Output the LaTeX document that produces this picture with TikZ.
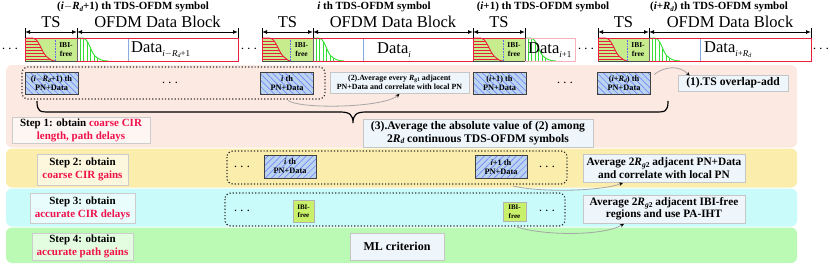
\documentclass[tikz,border=0pt]{standalone}
\usepackage{fontspec}
\setmainfont{Liberation Serif}
\usetikzlibrary{patterns.meta,arrows.meta,calc}
\definecolor{pinkbg}{HTML}{FCE9E2}
\definecolor{yelbg}{HTML}{FBEDAB}
\definecolor{cyanbg}{HTML}{C9FBFB}
\definecolor{greenbg}{HTML}{BAFAB4}
\definecolor{tsgreen}{HTML}{C6EC8E}
\definecolor{ibigreen}{HTML}{C8F06A}
\definecolor{hatchblue}{HTML}{B8D4EE}
\definecolor{boxfill}{HTML}{EEF5FB}
\definecolor{redtxt}{HTML}{F0104A}
\definecolor{symred}{HTML}{E8203C}
\definecolor{curvegreen}{HTML}{33DD33}
\definecolor{lineblue}{HTML}{88AADD}
\tikzset{
  panel/.style={rounded corners=6pt, draw=none},
  txtbox/.style={draw=gray!45, fill=boxfill, line width=0.6pt, align=center, inner sep=1pt,
     font=\bfseries\fontsize{11.3}{12.5}\selectfont},
  pnbox/.style={draw=black!75, line width=1pt, preaction={fill=hatchblue},
     pattern={Lines[angle=-45,distance=4.5pt,line width=0.5pt]}, pattern color=blue!55,
     minimum width=53pt, minimum height=22pt, align=center, inner sep=0pt,
     font=\bfseries\fontsize{8.3}{9}\selectfont},
  pnboxb/.style={pnbox, pattern={Lines[angle=45,distance=4.5pt,line width=0.5pt]}},
  ibibox/.style={draw=gray!60, fill=ibigreen, line width=0.6pt, align=center, inner sep=0pt,
     font=\bfseries\fontsize{7}{8.5}\selectfont},
  dotbox/.style={draw=black!80, dotted, line width=1.2pt, rounded corners=6pt},
  steplbl/.style={draw=gray!40, line width=0.6pt, align=center, inner sep=0pt,
     font=\bfseries\fontsize{11}{13}\selectfont},
  conn/.style={gray!70, line width=0.8pt, -{Stealth[length=4pt,width=3.5pt,black]}},
  dimarrow/.style={line width=0.9pt, {Latex[length=5pt,width=4pt]}-{Latex[length=5pt,width=4pt]}},
  dotsnode/.style={font=\bfseries\fontsize{14}{14}\selectfont, inner sep=0pt},
  ttl/.style={font=\bfseries\fontsize{11}{12}\selectfont},
  big/.style={font=\fontsize{16.5}{17}\selectfont},
}
% #1 TS start, #2 dotted, #3 TS end, #4 data end, #5 blue line x, #6 data outline colour
\newcommand{\drawsym}[6]{%
  \fill[tsgreen] (#1,38) rectangle (#3,61);
  \fill[white] (#3,38) rectangle (#4,61);
  \begin{scope}
    \clip (#1,38) -- (#1+7,38) .. controls (#1+14,38) and (#1+16,51) .. (#1+21,56) .. controls (#1+24,59) and (#1+27,61) .. (#2,61) -- (#1,61) -- cycle;
    \foreach \yy in {41,44,...,59} \draw[symred, line width=0.5pt] (#1,\yy) -- (#2,\yy);
  \end{scope}
  \draw[symred, line width=0.9pt] (#1,38) -- (#1+7,38) .. controls (#1+14,38) and (#1+16,51) .. (#1+21,56) .. controls (#1+24,59) and (#1+27,61) .. (#2,61);
  \begin{scope}
    \clip (#3,38) -- (#3+5,38) .. controls (#3+12,38) and (#3+13,51) .. (#3+18,56) .. controls (#3+21,59) and (#3+25,61) .. (#3+31,61) -- (#3,61) -- cycle;
    \foreach \xx in {3,6.5,...,22} \draw[curvegreen, line width=0.5pt] (#3+\xx,38) -- (#3+\xx,61);
  \end{scope}
  \draw[curvegreen, line width=0.9pt] (#3,38) -- (#3+5,38) .. controls (#3+12,38) and (#3+13,51) .. (#3+18,56) .. controls (#3+21,59) and (#3+25,61) .. (#3+31,61);
  \draw[blue!60, densely dotted, line width=0.6pt] (#2,38) -- (#2,61);
  \draw[#6, line width=1pt] (#3,38) -- (#4,38) -- (#4,61) -- (#3,61);
  \draw[symred, line width=1pt] (#3,38) -- (#1,38) -- (#1,61);
  \draw[black!70, line width=1pt] (#1,61) -- (#3,61);
  \draw[black!60, line width=0.7pt] (#3,38) -- (#3,61);
  \node[font=\bfseries\fontsize{7.5}{9}\selectfont, align=center, inner sep=0pt] at ({(#2+#3)/2},50) {IBI-\\free};
}
\begin{document}
\begin{tikzpicture}[x=1pt,y=-1pt]
\useasboundingbox (0,0) rectangle (830,265);
% ---------- panels
\fill[panel, pinkbg] (6,65) rectangle (797,147.5);
\fill[panel, yelbg] (6,148.5) rectangle (797,187.5);
\fill[panel, cyanbg] (6,188.5) rectangle (797,226.5);
\fill[panel, greenbg] (6,227.5) rectangle (797,263);

% ---------- top symbols
\drawsym{25}{55}{77}{238}{128}{symred}
\drawsym{262}{290}{313}{473}{363}{symred}
\drawsym{473}{503}{525}{575}{600}{symred!35}
\drawsym{598}{627}{649}{811}{700}{symred}
\foreach \bx in {128,363,700} \draw[lineblue, line width=0.8pt] (\bx,38.5) -- (\bx,60.5);
\node[big, anchor=west, inner sep=0pt] (d1) at (131,50) {Data\raisebox{-0.5ex}{\fontsize{9}{9}\selectfont\itshape i$-$R\raisebox{-0.3ex}{\fontsize{6}{6}\selectfont d}\upshape +1}};
\node[big, anchor=west, inner sep=0pt] (d2) at (377,50) {Data\raisebox{-0.5ex}{\fontsize{9}{9}\selectfont\itshape i}};
\node[big, anchor=west, inner sep=0pt] (d3) at (528,50) {Data\raisebox{-0.5ex}{\fontsize{9}{9}\selectfont\itshape i\upshape +1}};
\node[big, anchor=west, inner sep=0pt] (d4) at (704,50) {Data\raisebox{-0.5ex}{\fontsize{9}{9}\selectfont\itshape i\upshape +\itshape R\raisebox{-0.3ex}{\fontsize{6}{6}\selectfont d}}};

% dimension arrows
\foreach \xa/\xb in {25/77,77/238,262/313,313/473,473/525,598/649,649/811}{
  \draw[dimarrow] (\xa,32) -- (\xb,32);
  \draw[line width=0.9pt] (\xa,28) -- (\xa,38);
  \draw[line width=0.9pt] (\xb,28) -- (\xb,38);
}
\node[big] (ts1) at (51,22) {TS};
\node[big] (ob1) at (157.5,22) {OFDM Data Block};
\node[big] (ts2) at (287.5,22) {TS};
\node[big] (ob2) at (393,22) {OFDM Data Block};
\node[big] (ts3) at (499,22) {TS};
\node[big] (ts4) at (623.5,22) {TS};
\node[big] (ob4) at (730,22) {OFDM Data Block};

\node[ttl] (s1) at (133,7) {(\textit{i}$-$\textit{R\raisebox{-0.3ex}{\fontsize{7}{7}\selectfont d}}+1) th TDS-OFDM symbol};
\node[ttl] (s2) at (374,7) {\textit{i} th TDS-OFDM symbol};
\node[ttl] (s3) at (543,7) {(\textit{i}+1) th TDS-OFDM symbol};
\node[ttl] (s4) at (719,7) {(\textit{i}+\textit{R\raisebox{-0.3ex}{\fontsize{7}{7}\selectfont d}}) th TDS-OFDM symbol};

\node[dotsnode] (e1) at (10,49) {$\cdots$};
\node[dotsnode] (e2) at (249,49) {$\cdots$};
\node[dotsnode] (e3) at (586,49) {$\cdots$};
\node[dotsnode] (e4) at (821,49) {$\cdots$};

% ---------- Step 1
\draw[dotbox] (22,67) rectangle (325,99);
\node[pnbox] (b1) at (51.5,83) {(\textit{i}$-$\textit{R\raisebox{-0.3ex}{\fontsize{5.5}{5.5}\selectfont d}}+1) th\\PN+Data};
\node[pnbox] (b2) at (287,83) {\textit{i} th\\PN+Data};
\node[pnbox] (b3) at (499.5,83) {(\textit{i}+1) th\\PN+Data};
\node[pnbox] (b4) at (624,83) {(\textit{i}+\textit{R\raisebox{-0.3ex}{\fontsize{5.5}{5.5}\selectfont d}}) th\\PN+Data};
\node[dotsnode] (e5) at (170,83) {$\cdots$};
\node[dotsnode] (e6) at (565,83) {$\cdots$};
\node[txtbox, minimum width=139pt, minimum height=21pt, font=\bfseries\fontsize{7.9}{9.5}\selectfont] (t2) at (399.5,82.5)
  {(2).Average every \textit{R}\raisebox{-0.3ex}{\fontsize{5.5}{5.5}\selectfont g1} adjacent\\PN+Data and correlate with local PN};
\node[txtbox, minimum width=110pt, minimum height=16pt, font=\bfseries\fontsize{11.6}{12}\selectfont] (t1) at (733,83) {(1).TS overlap-add};
\node[txtbox, minimum width=230pt, minimum height=28pt, font=\bfseries\fontsize{11.6}{13}\selectfont] (t3) at (478,133)
  {(3).Average the absolute value of (2) among\\2\textit{R\raisebox{-0.3ex}{\fontsize{7.5}{7.5}\selectfont d}} continuous TDS-OFDM symbols};
\node[steplbl, fill=pinkbg!40, minimum width=138pt, minimum height=26pt] (l1) at (81,130)
  {Step 1: obtain \textcolor{redtxt}{coarse CIR}\\\textcolor{redtxt}{length, path delays}};

% brace
\coordinate (brl) at (37,101);
\coordinate (brr) at (668,101);
\coordinate (brt) at (353,123);
\draw[line width=1.2pt] (brl) .. controls ($(brl)+(0,11)$) and ($(brl)+(3,11)$) .. ($(brl)+(13,11)$) -- ($(brt)+(-13,-11)$) .. controls ($(brt)+(-3,-11)$) and ($(brt)+(0,-8)$) .. (brt)
  .. controls ($(brt)+(0,-8)$) and ($(brt)+(3,-11)$) .. ($(brt)+(13,-11)$) -- ($(brr)+(-13,11)$) .. controls ($(brr)+(-3,11)$) and ($(brr)+(0,11)$) .. (brr);

% connectors
\coordinate (c1s) at ($(b4.north east)+(3,3)$);
\coordinate (c1e) at ($(t1.north west)+(12,1)$);
\draw[conn] (c1s) .. controls ($(c1s)+(12,-9)$) and ($(c1e)+(-10,-10)$) .. (c1e);
\coordinate (c2s) at ($(b2.south)+(1,6)$);
\coordinate (c2e) at ($(t2.south)+(0,0.5)$);
\draw[conn] (c2s) .. controls ($(c2s)+(13,9)$) and ($(c2e)+(-15,14)$) .. (c2e);

% ---------- Step 2
\draw[dotbox] (227,151) rectangle (567,184);
\node[dotsnode] (e7) at (242,167) {$\cdots$};
\node[dotsnode] (e8) at (547,167) {$\cdots$};
\node[pnboxb, minimum width=52pt, minimum height=23pt] (b5) at (290,166.5) {\textit{i} th\\PN+Data};
\node[pnboxb, minimum width=52pt, minimum height=23pt] (b6) at (501,167) {\textit{i}+1 th\\PN+Data};
\node[txtbox, minimum width=162pt, minimum height=28pt] (t4) at (664,168)
  {Average 2\textit{R}\raisebox{-0.3ex}{\fontsize{7.5}{7.5}\selectfont\textit{g}2} adjacent PN+Data\\and correlate with local PN};
\node[steplbl, fill=yelbg!40, minimum width=91pt, minimum height=31pt] (l2) at (82.5,169.5)
  {Step 2: obtain\\\textcolor{redtxt}{coarse CIR gains}};
\coordinate (c3s) at (513,186);
\coordinate (c3e) at ($(t4.south)+(-41,0.5)$);
\draw[conn] (c3s) .. controls ($(c3s)+(30,7)$) and ($(c3e)+(-20,8)$) .. (c3e);

% ---------- Step 3
\draw[dotbox] (225,193) rectangle (565,226);
\node[dotsnode] (e9) at (242,211) {$\cdots$};
\node[dotsnode] (e10) at (547,211) {$\cdots$};
\node[ibibox, minimum width=21pt, minimum height=22pt] (i1) at (303.5,211) {IBI-\\free};
\node[ibibox, minimum width=23pt, minimum height=19pt] (i2) at (514.5,211.5) {IBI-\\free};
\node[txtbox, minimum width=162pt, minimum height=28pt] (t5) at (664,209)
  {Average 2\textit{R}\raisebox{-0.3ex}{\fontsize{7.5}{7.5}\selectfont\textit{g}2} adjacent IBI-free\\regions and use PA-IHT};
\node[steplbl, fill=cyanbg!40, minimum width=105pt, minimum height=30pt] (l3) at (82.5,208)
  {Step 3: obtain\\\textcolor{redtxt}{accurate CIR delays}};
\coordinate (c4s) at (517,227);
\coordinate (c4e) at ($(t5.south)+(-40,0.5)$);
\draw[conn] (c4s) .. controls ($(c4s)+(28,9)$) and ($(c4e)+(-20,12)$) .. (c4e);

% ---------- Step 4
\node[txtbox, minimum width=94pt, minimum height=27pt, font=\bfseries\fontsize{12}{13}\selectfont] (t6) at (397,246.5) {ML criterion};
\node[steplbl, fill=greenbg!40, minimum width=101pt, minimum height=27pt] (l4) at (82.5,246.5)
  {Step 4: obtain\\\textcolor{redtxt}{accurate path gains}};
\end{tikzpicture}
\end{document}
